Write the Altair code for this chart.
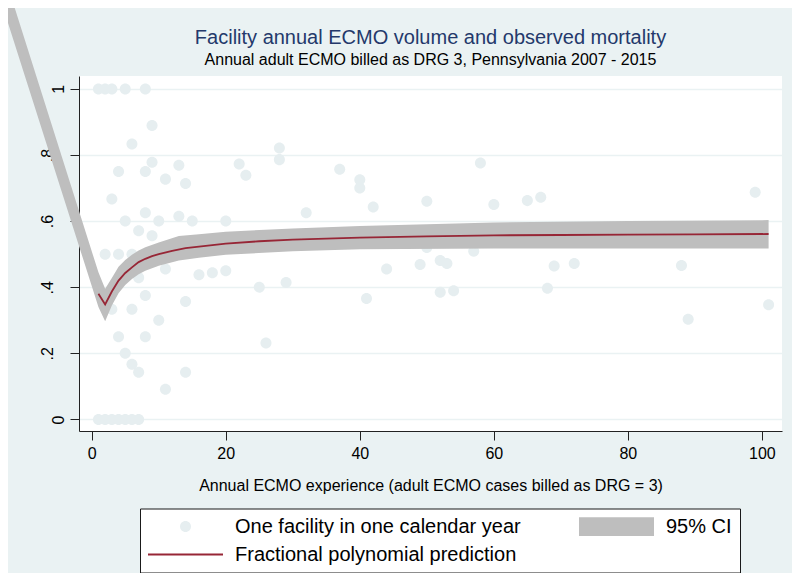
import altair as alt
import pandas as pd

# ---------------- data ----------------
TITLE = "Facility annual ECMO volume and observed mortality"
SUBTITLE = "Annual adult ECMO billed as DRG 3, Pennsylvania 2007 - 2015"
X_TITLE = "Annual ECMO experience (adult ECMO cases billed as DRG = 3)"
SERIES = ["One facility in one calendar year", "95% CI", "Fractional polynomial prediction"]

X_TICKS = [0, 20, 40, 60, 80, 100]
Y_TICKS = [0, 0.2, 0.4, 0.6, 0.8, 1]
Y_TICK_LABELS = ["0", ".2", ".4", ".6", ".8", "1"]

# one facility in one calendar year: volume (x) and observed mortality (y)
PT_X = [1, 1, 2, 2, 2, 3, 3, 3, 3, 4, 4, 4, 4, 5, 5, 5, 5, 6, 6, 6, 6, 6,
        7, 7, 7, 7, 8, 8, 8, 8, 8, 9, 9, 9, 10, 10, 11, 11, 11, 13, 13,
        14, 14, 14, 15, 16, 18, 20, 20, 22, 23, 25, 26, 28, 28, 29, 32, 37,
        40, 40, 41, 42, 44, 49, 50, 50, 52, 52, 53, 54, 57, 58, 60, 65, 67,
        68, 69, 72, 88, 89, 99, 101]
PT_Y = [1, 0, 1, .5, 0, 1, .667, .333, 0, .75, .5, .25, 0, 1, .6, .2, 0,
        .833, .5, .333, .167, 0, .571, .429, .143, 0, 1, .75, .625, .375, .25,
        .889, .778, .556, .6, .3, .727, .455, .091, .769, .615, .714, .357, .143,
        .6, .4375, .444, .6, .45, .773, .739, .4, .231, .821, .786, .414, .625,
        .757, .725, .70, .366, .643, .455, .469, .66, .52, .481, .385, .472,
        .389, .509, .776, .65, .662, .672, .397, .464, .472, .466, .303, .687, .347]

# fractional polynomial prediction
FIT_X = [1, 2, 3, 4, 5, 6, 7, 8, 9, 10, 12, 14, 16, 20, 25, 30, 40, 50, 60, 70, 80, 90, 101]
FIT_Y = [.380, .348, .387, .420, .443, .460, .476, .486, .494, .500, .510, .518,
         .523, .532, .539, .544, .550, .554, .557, .558, .559, .560, .561]

# 95% confidence band
CI_X = [-13.6, 1, 2, 3, 4, 5, 6, 7, 8, 10, 13, 16, 20, 30, 40, 60, 80, 101]
CI_LO = [1.270, .340, .297, .345, .382, .407, .425, .439, .450, .465, .481,
         .489, .498, .509, .515, .517, .517, .517]
CI_HI = [1.380, .445, .395, .428, .462, .482, .498, .511, .521, .535, .555,
         .560, .568, .578, .585, .596, .600, .603]

# ---------------- styling ----------------
BG = "#EAF2F3"
DOT = "#E6EEF0"
BAND = "#BEBEBE"
LINE = "#972636"
NAVY = "#24396B"
FONT = "Liberation Sans"

CIRCLE = "M-0.147,0A0.147,0.147,0,1,0,0.147,0A0.147,0.147,0,1,0,-0.147,0Z"
RECT = "M-1,-0.25H1V0.25H-1Z"
THIN = "M-1,-0.026H1V0.026H-1Z"

pts = pd.DataFrame({"x": PT_X, "y": PT_Y, "series": SERIES[0]})
fit = pd.DataFrame({"x": FIT_X, "y": FIT_Y})
ci = pd.DataFrame({"x": CI_X, "y": CI_LO, "y2": CI_HI})

xscale = alt.Scale(domain=[-1.9, 103], nice=False, zero=False)
yscale = alt.Scale(domain=[-0.035, 1.039], nice=False, zero=False)

label_expr = ""
for v, lab in zip(Y_TICKS, Y_TICK_LABELS):
    label_expr += f"datum.value == {v} ? '{lab}' : "
label_expr += "''"

xaxis = alt.Axis(values=X_TICKS, title=X_TITLE, grid=False, tickSize=9,
                 labelPadding=5, titlePadding=16, labelFlush=False)
yaxis = alt.Axis(values=Y_TICKS, labelExpr=label_expr, title=None, grid=True,
                 gridColor=BG, gridWidth=1.3, tickSize=9,
                 labelPadding={"condition": {"test": "datum.value == 0 || datum.value == 1", "value": 7},
                               "value": 18},
                 labelAngle=270, labelAlign="center", labelBaseline="alphabetic")

legend = alt.Legend(
    title=None, orient="none", legendX=61, legendY=432.5, columns=2, direction="horizontal",
    symbolSize=5625, symbolStrokeWidth=0, symbolOpacity=1, clipHeight=20,
    labelFont=FONT, labelFontSize=20, labelColor="black", labelLimit=400,
    labelOffset=12, labelBaseline="middle", rowPadding=8, columnPadding=58,
    padding=8, fillColor="white", strokeColor="#1a1a1a", cornerRadius=0,
)

points = alt.Chart(pts).mark_point(filled=True, size=5625, opacity=1, strokeWidth=0).encode(
    x=alt.X("x:Q", scale=xscale, axis=xaxis),
    y=alt.Y("y:Q", scale=yscale, axis=yaxis),
    color=alt.Color("series:N", scale=alt.Scale(domain=SERIES, range=[DOT, BAND, LINE]), legend=legend),
    shape=alt.Shape("series:N", scale=alt.Scale(domain=SERIES, range=[CIRCLE, RECT, THIN]), legend=legend),
)

band = alt.Chart(ci).mark_area(color=BAND, opacity=1).encode(
    x=alt.X("x:Q", scale=xscale, axis=xaxis),
    y=alt.Y("y:Q", scale=yscale, axis=yaxis),
    y2="y2:Q",
)

line = alt.Chart(fit).mark_line(color=LINE, strokeWidth=1.8).encode(
    x=alt.X("x:Q", scale=xscale, axis=xaxis),
    y=alt.Y("y:Q", scale=yscale, axis=yaxis),
)

chart = alt.layer(points, band, line).properties(
    width=703, height=355,
    padding={"left": 71, "top": 68, "right": 10, "bottom": 142},
    autosize=alt.AutoSizeParams(type="none"),
    background=BG,
    title=alt.TitleParams(
        text=TITLE, subtitle=SUBTITLE, anchor="middle", frame="group",
        font=FONT, fontSize=20, fontWeight="normal", color=NAVY,
        subtitleFont=FONT, subtitleFontSize=16, subtitleColor="black",
        subtitlePadding=4, offset=-104.7,
    ),
).configure_view(fill="white", strokeWidth=0).configure_axis(
    domainColor="#222222", tickColor="#222222", domainWidth=1, tickWidth=1,
    labelFont=FONT, labelFontSize=16, labelColor="black",
    titleFont=FONT, titleFontSize=16, titleFontWeight="normal", titleColor="black",
)

chart.save("out.html", embed_options={"renderer": "svg", "actions": False})
